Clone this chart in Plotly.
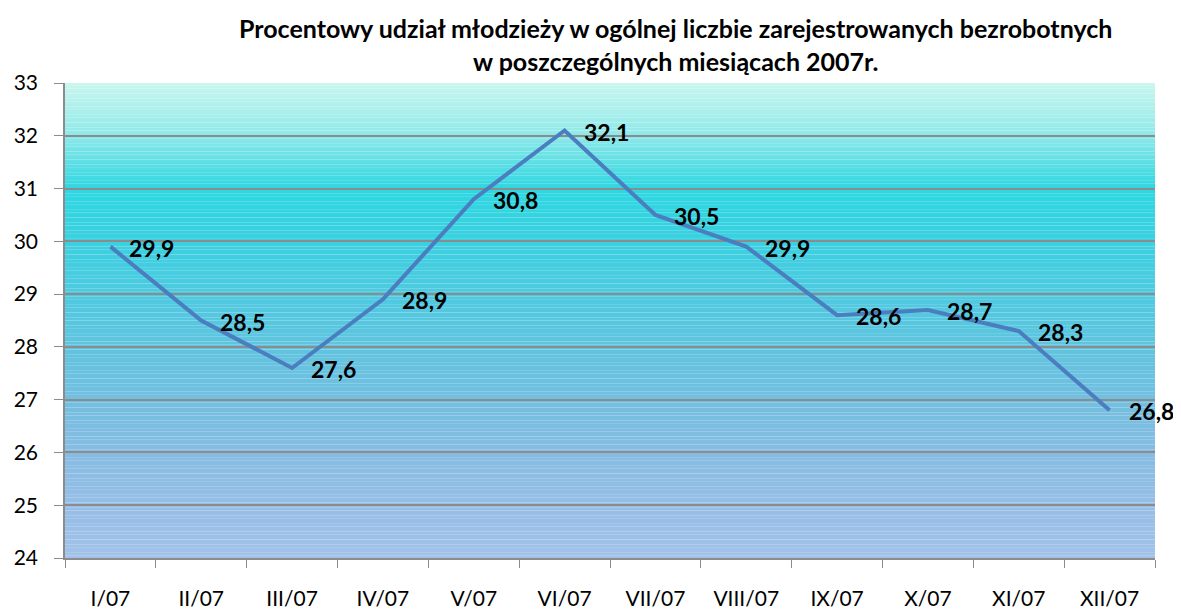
import plotly.graph_objects as go

months = ["I/07", "II/07", "III/07", "IV/07", "V/07", "VI/07", "VII/07", "VIII/07", "IX/07", "X/07", "XI/07", "XII/07"]
share = [29.9, 28.5, 27.6, 28.9, 30.8, 32.1, 30.5, 29.9, 28.6, 28.7, 28.3, 26.8]
y_ticks = [24, 25, 26, 27, 28, 29, 30, 31, 32, 33]

FONT = "Lato"

# gradient stops (value on y axis -> colour)
stops = [(24.0, (0xa2, 0xc2, 0xe9)), (25.0, (0x96, 0xbe, 0xe6)), (26.0, (0x86, 0xbc, 0xe2)),
         (27.0, (0x73, 0xbf, 0xe0)), (28.0, (0x60, 0xc4, 0xdf)), (29.0, (0x4e, 0xca, 0xe0)),
         (30.0, (0x3b, 0xd0, 0xe0)), (31.0, (0x2e, 0xd7, 0xe1)), (31.4, (0x55, 0xdd, 0xe4)),
         (32.0, (0x8e, 0xe9, 0xe9)), (33.0, (0xca, 0xf6, 0xef))]

def colour_at(v):
    for (a, ca), (b, cb) in zip(stops[:-1], stops[1:]):
        if a <= v <= b:
            t = (v - a) / (b - a)
            return "rgb(%d,%d,%d)" % tuple(round(ca[i] + (cb[i] - ca[i]) * t) for i in range(3))
    return "rgb(%d,%d,%d)" % stops[-1][1]

shapes = []
n = 180
lo, hi = 24.0, 33.0
step = (hi - lo) / n
for i in range(n):
    y0 = lo + i * step
    shapes.append(dict(type="rect", xref="paper", yref="y", x0=0, x1=1, y0=y0, y1=y0 + step + 0.002,
                       fillcolor=colour_at(y0 + step / 2), line=dict(width=0), layer="below"))

fig = go.Figure()
fig.add_trace(go.Scatter(x=months, y=share, mode="lines",
                         line=dict(color="#4a7ebf", width=4), hoverinfo="skip"))

annotations = []
for m, v in zip(months, share):
    annotations.append(dict(x=m, y=v, xref="x", yref="y", text="<b>" + f"{v:.1f}".replace(".", ",") + "</b>",
                            showarrow=False, xanchor="left", yanchor="middle", xshift=17, yshift=-1,
                            font=dict(family=FONT, size=23, color="black")))

# the page body has an 8px margin, so figure coords are page coords minus 8
OFF = 8
PLOT_TOP, PLOT_H, PLOT_L, PLOT_W = 83 - OFF, 475, 65 - OFF, 1090
annotations.append(dict(xref="paper", yref="paper", x=(675 - OFF - PLOT_L) / PLOT_W,
                        y=1 + (PLOT_TOP - 3) / PLOT_H,
                        xanchor="center", yanchor="top", showarrow=False,
                        text="<b>Procentowy udział młodzieży w ogólnej liczbie zarejestrowanych bezrobotnych<br>w poszczególnych miesiącach 2007r.</b>",
                        font=dict(family=FONT, size=25, color="black")))

fig.update_layout(
    width=1181 - OFF, height=612 - OFF,
    margin=dict(l=PLOT_L, r=1181 - OFF - PLOT_L - PLOT_W, t=PLOT_TOP, b=612 - OFF - PLOT_TOP - PLOT_H,
                autoexpand=False),
    paper_bgcolor="white", plot_bgcolor="white",
    showlegend=False,
    shapes=shapes,
    annotations=annotations,
    font=dict(family=FONT, size=20, color="black"),
)
fig.update_xaxes(type="category", tickson="boundaries", ticks="outside", ticklen=8,
                 tickcolor="#8c8c8c", showline=True, linecolor="#8c8c8c", linewidth=1.5,
                 showgrid=False, ticklabelstandoff=21, tickfont=dict(family=FONT, size=21),
                 range=[-0.5, 11.5], automargin=False)
fig.update_yaxes(range=[24, 33], tickvals=y_ticks, ticks="outside", ticklen=9, tickcolor="#8c8c8c",
                 showline=True, linecolor="#8c8c8c", linewidth=1.5, showgrid=True,
                 gridcolor="#8c8c8c", gridwidth=1.5, zeroline=False, ticklabelstandoff=12,
                 tickfont=dict(family=FONT, size=21), automargin=False)

fig.write_html("out.html")
